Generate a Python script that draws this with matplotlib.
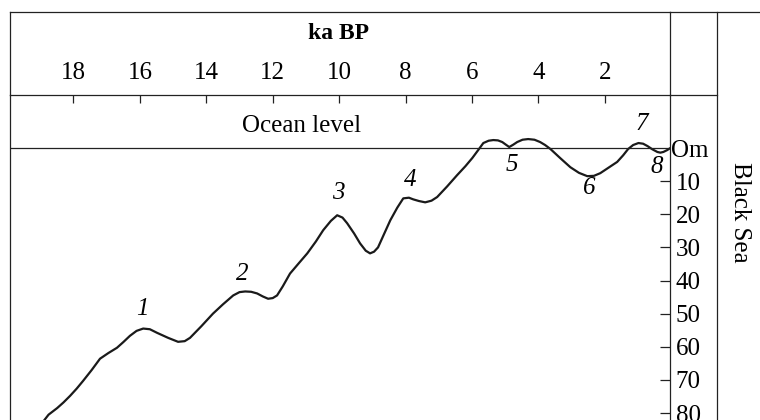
import matplotlib.pyplot as plt
from matplotlib.lines import Line2D

plt.rcParams['font.family'] = ['Liberation Serif', 'DejaVu Serif']

# sea level curve (age in ka BP, depth in m below ocean level)
age_ka = [18.92, 18.75, 18.49, 18.30, 18.10, 17.90, 17.71, 17.45, 17.20, 16.95, 16.69,
          16.50, 16.30, 16.10, 15.90, 15.70, 15.48, 15.15, 14.85, 14.65, 14.49, 14.15,
          13.80, 13.50, 13.19, 13.00, 12.83, 12.65, 12.47, 12.30, 12.14, 12.00, 11.87,
          11.70, 11.48, 11.20, 10.96, 10.70, 10.48, 10.25, 10.06, 9.90, 9.76, 9.55,
          9.37, 9.20, 9.07, 8.95, 8.83, 8.65, 8.46, 8.25, 8.07, 7.90, 7.77, 7.60, 7.41,
          7.22, 7.05, 6.75, 6.45, 6.20, 5.99, 5.82, 5.66, 5.50, 5.36, 5.22, 5.09, 4.98,
          4.88, 4.76, 4.64, 4.48, 4.31, 4.12, 3.95, 3.80, 3.64, 3.35, 3.04, 2.78, 2.53,
          2.33, 2.14, 1.90, 1.63, 1.45, 1.30, 1.15, 0.99, 0.85, 0.72, 0.57, 0.42, 0.33,
          0.24, 0.12, 0.03]
depth_m = [82.7, 80.5, 78.5, 76.8, 74.8, 72.6, 70.3, 67.0, 63.6, 61.9, 60.3,
           58.6, 56.7, 55.2, 54.5, 54.7, 55.8, 57.3, 58.5, 58.3, 57.3, 53.8,
           50.0, 47.2, 44.5, 43.5, 43.3, 43.4, 43.9, 44.8, 45.5, 45.3, 44.5,
           41.8, 37.9, 34.6, 31.8, 28.2, 24.8, 22.0, 20.3, 21.0, 22.7, 25.8,
           28.8, 31.0, 31.8, 31.3, 30.0, 26.0, 21.8, 18.0, 15.2, 15.0, 15.5, 16.0, 16.4,
           15.9, 14.8, 11.6, 8.2, 5.5, 3.0, 0.7, -1.5, -2.2, -2.4, -2.3, -1.8, -1.0,
           -0.3, -1.0, -1.8, -2.5, -2.7, -2.5, -1.8, -0.9, 0.3, 3.0, 5.8, 7.5, 8.5,
           8.4, 7.6, 6.0, 4.2, 2.2, 0.3, -0.9, -1.5, -1.3, -0.6, 0.4, 1.2, 1.4,
           1.2, 0.6, 0.0]

# numbered stages and where their labels sit
stage_labels = ['1', '2', '3', '4', '5', '6', '7', '8']
stage_age = [15.93, 12.92, 10.03, 7.86, 4.79, 2.47, 0.90, 0.45]
stage_depth = [48.5, 37.9, 13.6, 9.7, 5.2, 12.1, -7.3, 5.8]

age_ticks = [18, 16, 14, 12, 10, 8, 6, 4, 2]
depth_ticks = [0, 10, 20, 30, 40, 50, 60, 70, 80]
depth_tick_labels = ['Om', '10', '20', '30', '40', '50', '60', '70', '80']

W, H = 760, 420
fig = plt.figure(figsize=(W / 100, H / 100), dpi=100)


def fx(px):
    return px / W


def fy(py):
    return 1 - py / H


fs = 18
lc = '#222222'
lw_frame = 0.9

# main panel: curve
ax = fig.add_axes([fx(10), fy(420), fx(670) - fx(10), fy(95) - fy(420)])
ax.plot(age_ka, depth_m, color='#1a1a1a', lw=1.6, solid_capstyle='round',
        solid_joinstyle='round')
ax.axhline(0, color=lc, lw=lw_frame)
ax.set_xlim(19.91, 0.04)
ax.set_ylim(82.1, -16.0)

for s in ['left', 'top', 'right']:
    ax.spines[s].set_color(lc)
    ax.spines[s].set_linewidth(lw_frame)
ax.spines['bottom'].set_visible(False)

ax.set_xticks(age_ticks)
ax.set_xticklabels([str(t) for t in age_ticks])
ax.tick_params(axis='x', bottom=False, labelbottom=False, top=True, labeltop=True,
               direction='in', length=6, width=lw_frame, color=lc, labelsize=fs, pad=8)
ax.set_yticks(depth_ticks)
ax.set_yticklabels(depth_tick_labels)
ax.tick_params(axis='y', left=False, labelleft=False, right=True, labelright=True,
               direction='in', length=7, width=lw_frame, color=lc, labelsize=fs, pad=4)
ax.yaxis.get_major_ticks()[0].tick2line.set_visible(False)
ax.get_yticklabels()[0].set_x(0.993)

ax.text(11.12, -6.6, 'Ocean level', fontsize=fs, ha='center', va='center')

for lab, a, d in zip(stage_labels, stage_age, stage_depth):
    ax.text(a, d, lab, fontsize=fs, style='italic', ha='center', va='center')

# header panel
hx = fig.add_axes([fx(10), fy(95), fx(670) - fx(10), fy(12) - fy(95)])
hx.set_xticks([])
hx.set_yticks([])
hx.spines['bottom'].set_visible(False)
for s in ['left', 'top', 'right']:
    hx.spines[s].set_color(lc)
    hx.spines[s].set_linewidth(lw_frame)
hx.patch.set_alpha(0)
hx.text(0.497, 0.735, 'ka BP', transform=hx.transAxes, fontsize=fs - 1,
        fontweight='bold', ha='center', va='center')

# remaining frame lines of the table
fig.add_artist(Line2D([fx(670), fx(760)], [fy(12), fy(12)], color=lc, lw=lw_frame))
fig.add_artist(Line2D([fx(670), fx(717)], [fy(95), fy(95)], color=lc, lw=lw_frame))
fig.add_artist(Line2D([fx(717), fx(717)], [fy(12), fy(420)], color=lc, lw=lw_frame))

fig.text(fx(740), fy(212), 'Black Sea', rotation=270, fontsize=fs,
         ha='center', va='center')

fig.savefig('out.png', dpi=100)
